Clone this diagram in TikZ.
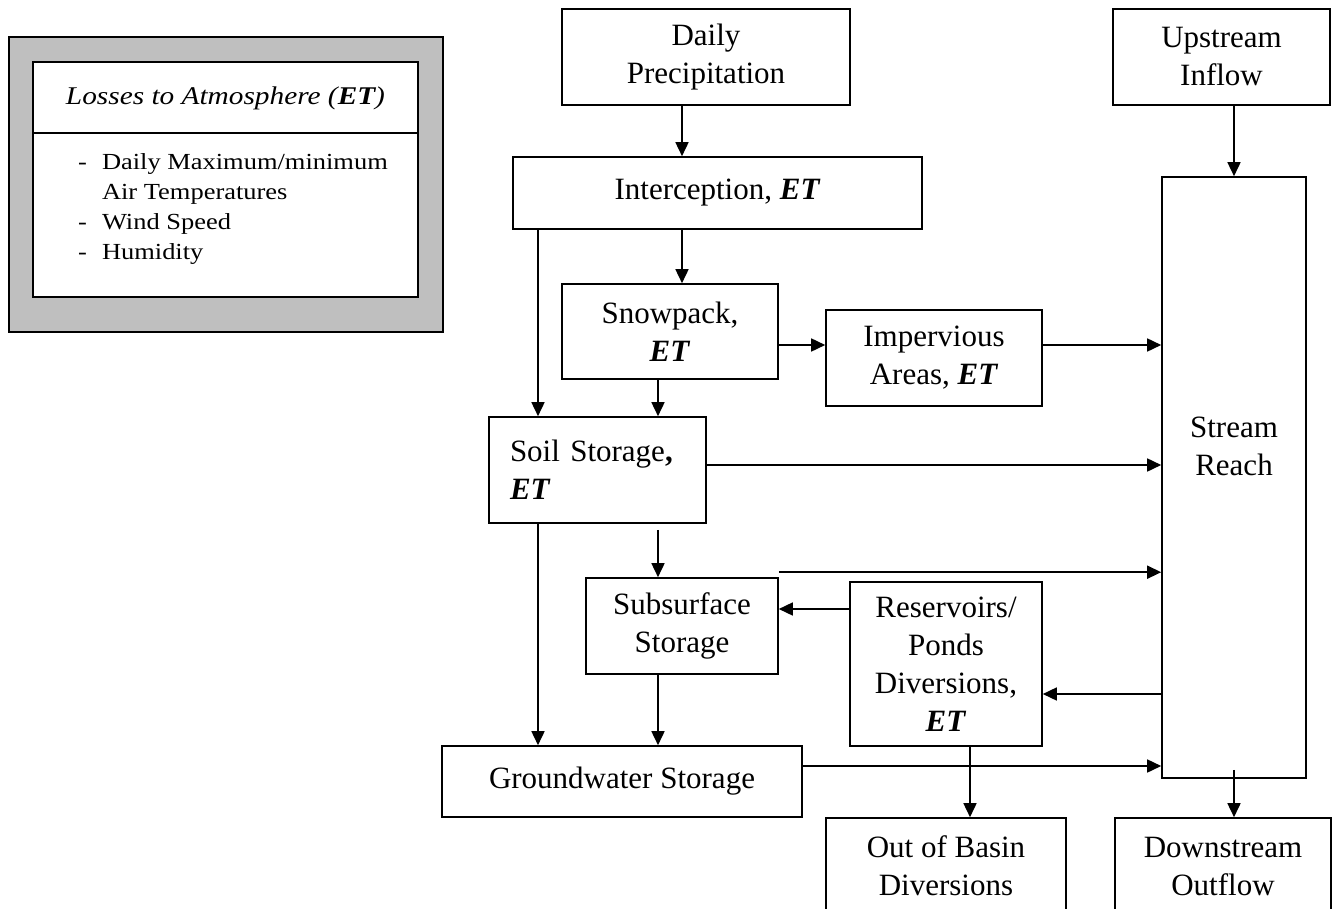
\documentclass[tikz,border=0pt]{standalone}
\usepackage{fontspec}
\setmainfont{Liberation Serif}
\newfontfamily\legendfont[FakeStretch=1.15]{Liberation Serif}
\usetikzlibrary{arrows.meta}

\newcommand{\et}{\textbf{\textit{ET}}}

\begin{document}
\begin{tikzpicture}[x=1pt, y=-1pt,
    box/.style={draw, line width=1.6pt, align=center, inner sep=0pt,
      font=\fontsize{31}{38}\selectfont},
    arr/.style={line width=1.6pt, -{Triangle[length=14pt, width=13pt]}}]
  \useasboundingbox (0,0) rectangle (1332,909);

  % legend
  \node[draw, line width=1.6pt, fill=black!25, minimum width=434pt,
    minimum height=295pt, inner sep=0pt] (legend) at (226,184.5) {};
  \node[draw, line width=1.6pt, fill=white, minimum width=385pt,
    minimum height=235pt, inner sep=0pt] (legendin) at (225.5,179.5) {};
  \coordinate (sep) at (0,133);
  \draw[line width=1.6pt] (legendin.west |- sep) -- (legendin.east |- sep);
  \node[font=\legendfont\fontsize{25.5}{30}\selectfont\itshape] (legtitle)
    at (225.5,98) {Losses to Atmosphere (\textbf{ET})};
  \node[anchor=north west, inner sep=0pt,
    font=\legendfont\fontsize{23}{30}\selectfont] (leglist) at (78,148)
    {\begin{tabular}{@{}l@{\hspace{15pt}}l@{}}
      - & Daily Maximum/minimum\\
        & Air Temperatures\\
      - & Wind Speed\\
      - & Humidity
    \end{tabular}};

  % stores
  \node[box, minimum width=288pt, minimum height=96pt] (precip) at (706,57) {Daily\\Precipitation};
  \node[box, minimum width=409pt, minimum height=72pt] (interc) at (717.5,193) {Interception, \et};
  \node[box, minimum width=216pt, minimum height=95pt] (snow) at (670,331.5) {Snowpack,\\\et};
  \node[box, minimum width=216pt, minimum height=96pt] (imperv) at (934,358) {Impervious\\Areas, \et};
  \node[box, minimum width=217pt, minimum height=106pt, text width=175pt, align=left] (soil)
    at (597.5,470) {Soil Storage\textbf{,}\\\et};
  \node[box, minimum width=192pt, minimum height=96pt] (subsurf) at (682,626) {Subsurface\\Storage};
  \node[box, minimum width=192pt, minimum height=164pt] (reserv) at (946,664)
    {Reservoirs/\\Ponds\\Diversions,\\\et};
  \node[box, minimum width=360pt, minimum height=71pt] (ground) at (622,781.5) {Groundwater Storage};
  \node[box, minimum width=144pt, minimum height=601pt,
    label={[box, draw=none, yshift=31.5pt]center:Stream\\Reach}] (stream) at (1234,477.5) {};
  \node[box, minimum width=217pt, minimum height=96pt] (upstream) at (1221.5,57) {Upstream\\Inflow};
  \node[box, minimum width=240pt, minimum height=96pt] (outbasin) at (946,866) {Out of Basin\\Diversions};
  \node[box, minimum width=216pt, minimum height=96pt] (downstream) at (1223,866) {Downstream\\Outflow};

  % flow paths
  \coordinate (colA) at (538,0);
  \coordinate (colB) at (658,0);
  \coordinate (snowout) at ([yshift=-13.5pt]snow.east);
  \coordinate (impout) at ([yshift=13pt]imperv.east);
  \coordinate (soilout) at ([yshift=5pt]soil.east);
  \coordinate (soilgap) at ([yshift=-6pt]soil.south);
  \coordinate (subout) at ([yshift=5pt]subsurf.north east);
  \coordinate (subin) at ([yshift=17pt]subsurf.east);
  \coordinate (resin) at ([yshift=-30pt]reserv.east);
  \coordinate (gwout) at ([yshift=15.5pt]ground.east);
  \coordinate (resout) at ([xshift=24pt]reserv.south);
  \coordinate (streamout) at ([yshift=9pt]stream.south);

  \draw[arr] (precip.south -| subsurf) -- (interc.north -| subsurf);
  \draw[arr] (interc.south -| subsurf) -- (snow.north -| subsurf);
  \draw[arr] (interc.south -| colA) -- (soil.north -| colA);
  \draw[arr] (snow.south -| colB) -- (soil.north -| colB);
  \draw[arr] (snowout) -- (snowout -| imperv.west);
  \draw[arr] (impout) -- (impout -| stream.west);
  \draw[arr] (soilout) -- (soilout -| stream.west);
  \draw[arr] (soilgap -| colB) -- (subsurf.north -| colB);
  \draw[arr] (subout) -- (subout -| stream.west);
  \draw[arr] (subin -| reserv.west) -- (subin);
  \draw[arr] (resin -| stream.west) -- (resin);
  \draw[arr] (soil.south -| colA) -- (ground.north -| colA);
  \draw[arr] (subsurf.south -| colB) -- (ground.north -| colB);
  \draw[arr] (gwout) -- (gwout -| stream.west);
  \draw[arr] (resout) -- (resout |- outbasin.north);
  \draw[arr] (upstream.south -| stream) -- (stream.north);
  \draw[arr] (streamout) -- (streamout |- downstream.north);
\end{tikzpicture}
\end{document}
